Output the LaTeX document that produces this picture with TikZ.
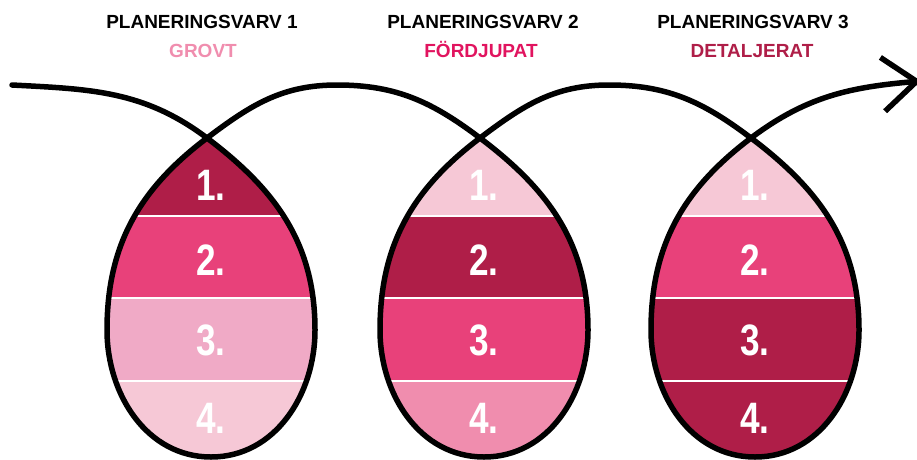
\documentclass[tikz,border=0pt]{standalone}
\usepackage{fontspec}
\setmainfont{Liberation Sans}
\usetikzlibrary{arrows.meta}

\definecolor{darkrose}{HTML}{AF1E48}
\definecolor{midrose}{HTML}{E8417A}
\definecolor{lightrose}{HTML}{F0AAC6}
\definecolor{palerose}{HTML}{F6C8D6}
\definecolor{softrose}{HTML}{F08DAE}
\definecolor{hotrose}{HTML}{E1145F}

% one egg, from its tip round and back to its tip
\newcommand{\eggloop}[1]{to[out=-37,in=90] (r#1) to[out=-90,in=0] (b#1) to[out=180,in=-90] (l#1) to[out=90,in=-143] (a#1)}

\begin{document}
\begin{tikzpicture}[x=1pt,y=1pt,
  title/.style={font=\bfseries\fontsize{19}{19}\selectfont,inner sep=0pt,anchor=base},
  num/.style={text=white,font=\bfseries\fontsize{44}{44}\selectfont,inner sep=0pt,anchor=base},
  loopline/.style={line width=5.5pt,line cap=round,line join=round},
  sep/.style={white,line width=1.5pt}]

\useasboundingbox (0,0) rectangle (917,459);

\foreach \i/\ax/\cx in {1/207/211,2/480/484,3/751/755}{
  \coordinate (a\i) at (\ax,321);
  \coordinate (r\i) at (\cx+104,129);
  \coordinate (b\i) at (\cx,2);
  \coordinate (l\i) at (\cx-104,129);
}

% the four bands of each egg
\foreach \i/\cx/\ca/\cb/\cc/\cd in {1/211/darkrose/midrose/lightrose/palerose,
    2/484/palerose/darkrose/midrose/softrose,
    3/755/palerose/midrose/darkrose/darkrose}{
  \begin{scope}
    \clip (a\i) \eggloop{\i};
    \fill[\ca] (\cx-120,243) rectangle (\cx+120,330);
    \fill[\cb] (\cx-120,161) rectangle (\cx+120,243);
    \fill[\cc] (\cx-120,78) rectangle (\cx+120,161);
    \fill[\cd] (\cx-120,-5) rectangle (\cx+120,78);
    \draw[sep] (\cx-120,243) -- (\cx+120,243);
    \draw[sep] (\cx-120,161) -- (\cx+120,161);
    \draw[sep] (\cx-120,78) -- (\cx+120,78);
  \end{scope}
  \node[num] (n\i-1) at (\cx,259) {\scalebox{0.8}[1]{1.}};
  \node[num] (n\i-2) at (\cx,184) {\scalebox{0.8}[1]{2.}};
  \node[num] (n\i-3) at (\cx,104) {\scalebox{0.8}[1]{3.}};
  \node[num] (n\i-4) at (\cx,26) {\scalebox{0.8}[1]{4.}};
}

\coordinate (start) at (12,374);
\coordinate (top1) at (337,374);
\coordinate (top2) at (609,374);
\coordinate (tip) at (921,378);

\draw[loopline,-{Straight Barb[length=34pt,width=54pt]}] (start) to[out=-3,in=143] (a1) \eggloop{1}
  to[out=37,in=180] (top1) to[out=0,in=143] (a2) \eggloop{2}
  to[out=37,in=180] (top2) to[out=0,in=143] (a3) \eggloop{3}
  to[out=37,in=185] (tip);

\node[title] (v1) at (202,430) {PLANERINGSVARV 1};
\node[title,text=softrose] (g1) at (203,402) {GROVT};
\node[title] (v2) at (483,430) {PLANERINGSVARV 2};
\node[title,text=hotrose] (g2) at (481,402) {FÖRDJUPAT};
\node[title] (v3) at (753,430) {PLANERINGSVARV 3};
\node[title,text=darkrose] (g3) at (752,402) {DETALJERAT};
\end{tikzpicture}
\end{document}
